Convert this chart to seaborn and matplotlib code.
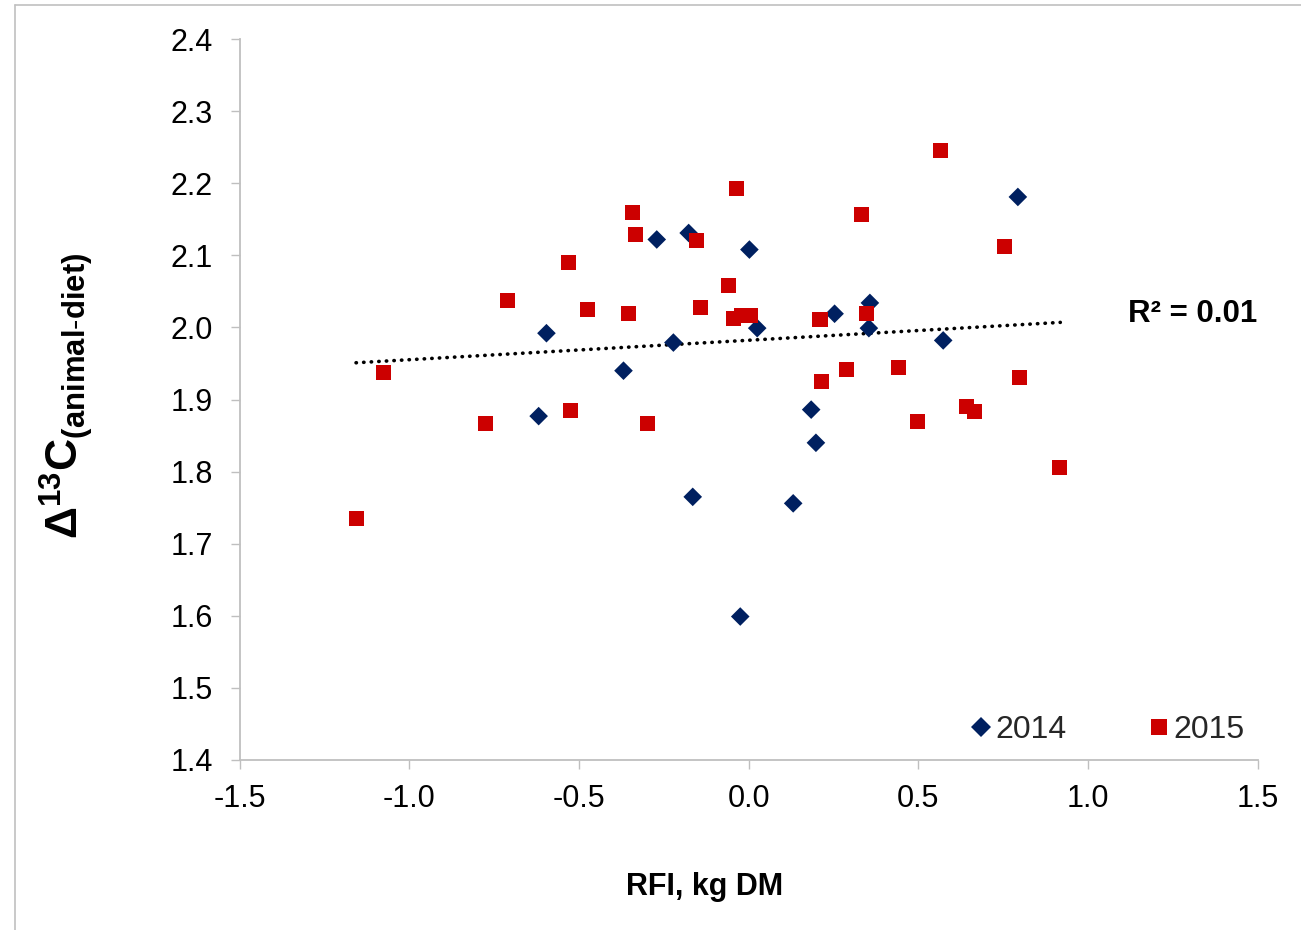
import numpy as np
import pandas as pd
import matplotlib
matplotlib.use("Agg")
import matplotlib.pyplot as plt
from matplotlib.lines import Line2D
import seaborn as sns

# ---------------- data ----------------
rfi_2014 = [-0.619, -0.596, -0.369, -0.271, -0.222, -0.177, -0.165, -0.025, 0.002,
            0.025, 0.131, 0.184, 0.198, 0.253, 0.354, 0.357, 0.573, 0.793]
d13c_2014 = [1.877, 1.992, 1.940, 2.122, 1.979, 2.131, 1.765, 1.599, 2.108,
             1.999, 1.756, 1.886, 1.840, 2.019, 1.999, 2.034, 1.982, 2.181]

rfi_2015 = [-1.157, -1.075, -0.775, -0.710, -0.532, -0.524, -0.476, -0.355, -0.343,
            -0.335, -0.297, -0.153, -0.143, -0.059, -0.044, -0.036, -0.021, 0.004,
            0.210, 0.214, 0.289, 0.331, 0.346, 0.441, 0.498, 0.566, 0.642, 0.665,
            0.755, 0.797, 0.917]
d13c_2015 = [1.735, 1.938, 1.867, 2.038, 2.090, 1.885, 2.025, 2.020, 2.159,
             2.129, 1.867, 2.120, 2.028, 2.058, 2.012, 2.193, 2.017, 2.017,
             2.011, 1.925, 1.942, 2.156, 2.019, 1.945, 1.869, 2.245, 1.890, 1.883,
             2.112, 1.930, 1.806]

trend_x = [-1.157, 0.918]
trend_y = [1.951, 2.007]

series_names = ["2014", "2015"]
x_ticks = [-1.5, -1.0, -0.5, 0.0, 0.5, 1.0, 1.5]
x_tick_labels = ["-1.5", "-1.0", "-0.5", "0.0", "0.5", "1.0", "1.5"]
y_ticks = [1.4, 1.5, 1.6, 1.7, 1.8, 1.9, 2.0, 2.1, 2.2, 2.3, 2.4]
y_tick_labels = ["1.4", "1.5", "1.6", "1.7", "1.8", "1.9", "2.0", "2.1", "2.2", "2.3", "2.4"]
r2_text = "R² = 0.01"

# ---------------- style ----------------
sns.set_theme(style="white")
plt.rcParams["font.family"] = ["Liberation Sans", "DejaVu Sans"]
plt.rcParams["mathtext.fontset"] = "custom"
plt.rcParams["mathtext.rm"] = "Liberation Sans"
plt.rcParams["mathtext.bf"] = "Liberation Sans:bold"
plt.rcParams["mathtext.it"] = "Liberation Sans:italic"
plt.rcParams["mathtext.default"] = "bf"

BLUE = "#002060"
RED = "#CC0000"
GRID_GREY = "#BFBFBF"

fig = plt.figure(figsize=(13.01, 9.30), dpi=100)
ax = fig.add_axes([0.1842, 0.1828, 0.7826, 0.7752])

df14 = pd.DataFrame({"RFI": rfi_2014, "d13C": d13c_2014})
df15 = pd.DataFrame({"RFI": rfi_2015, "d13C": d13c_2015})

sns.lineplot(x=trend_x, y=trend_y, ax=ax, color="black", lw=2.6,
             linestyle=(0, (0.1, 2.0)), dash_capstyle="round", zorder=2)
sns.scatterplot(data=df14, x="RFI", y="d13C", marker="D", s=90, color=BLUE,
                edgecolor="none", linewidth=0, ax=ax, zorder=3)
sns.scatterplot(data=df15, x="RFI", y="d13C", marker="s", s=117, color=RED,
                edgecolor="none", linewidth=0, ax=ax, zorder=3)

ax.set_xlim(-1.5, 1.5)
ax.set_ylim(1.4, 2.4)
ax.set_xticks(x_ticks)
ax.set_xticklabels(x_tick_labels)
ax.set_yticks(y_ticks)
ax.set_yticklabels(y_tick_labels)

for s in ["top", "right"]:
    ax.spines[s].set_visible(False)
for s in ["left", "bottom"]:
    ax.spines[s].set_color(GRID_GREY)
    ax.spines[s].set_linewidth(1.3)

ax.tick_params(axis="both", direction="out", length=6.5, width=1.0,
               color=GRID_GREY, labelsize=22, labelcolor="black")
ax.tick_params(axis="x", pad=11, bottom=True)
ax.tick_params(axis="y", pad=13, left=True)

ax.set_xlabel("RFI, kg DM", fontsize=22, fontweight="bold", color="black")
ax.xaxis.set_label_coords(0.457, -0.156)
ax.set_ylabel(r"$\Delta^{13}C_{(animal\text{-}diet)}$", fontsize=32, color="black")
ax.yaxis.set_label_coords(-0.142, 0.505)

ax.text(1.118, 2.019, r2_text, fontsize=22.5, fontweight="bold",
        ha="left", va="center", color="black")

handles = [
    Line2D([], [], marker="D", ls="none", color=BLUE, markeredgewidth=0, markersize=10.0),
    Line2D([], [], marker="s", ls="none", color=RED, markeredgewidth=0, markersize=11.5),
]
ax.legend(handles, series_names, ncol=2, loc="center", bbox_to_anchor=(0.853, 0.042),
          frameon=False, fontsize=23, handlelength=0.6, handletextpad=0.15,
          columnspacing=2.6, borderpad=0)

# chart-area border (left and top visible in the reference)
bx = 15 / 1301
by = 1 - 5 / 930
fig.add_artist(Line2D([bx, bx], [0, by], transform=fig.transFigure, color="#C0C0C0", lw=1.2))
fig.add_artist(Line2D([bx, 1], [by, by], transform=fig.transFigure, color="#C0C0C0", lw=1.2))

fig.savefig("out.png", dpi=100)
